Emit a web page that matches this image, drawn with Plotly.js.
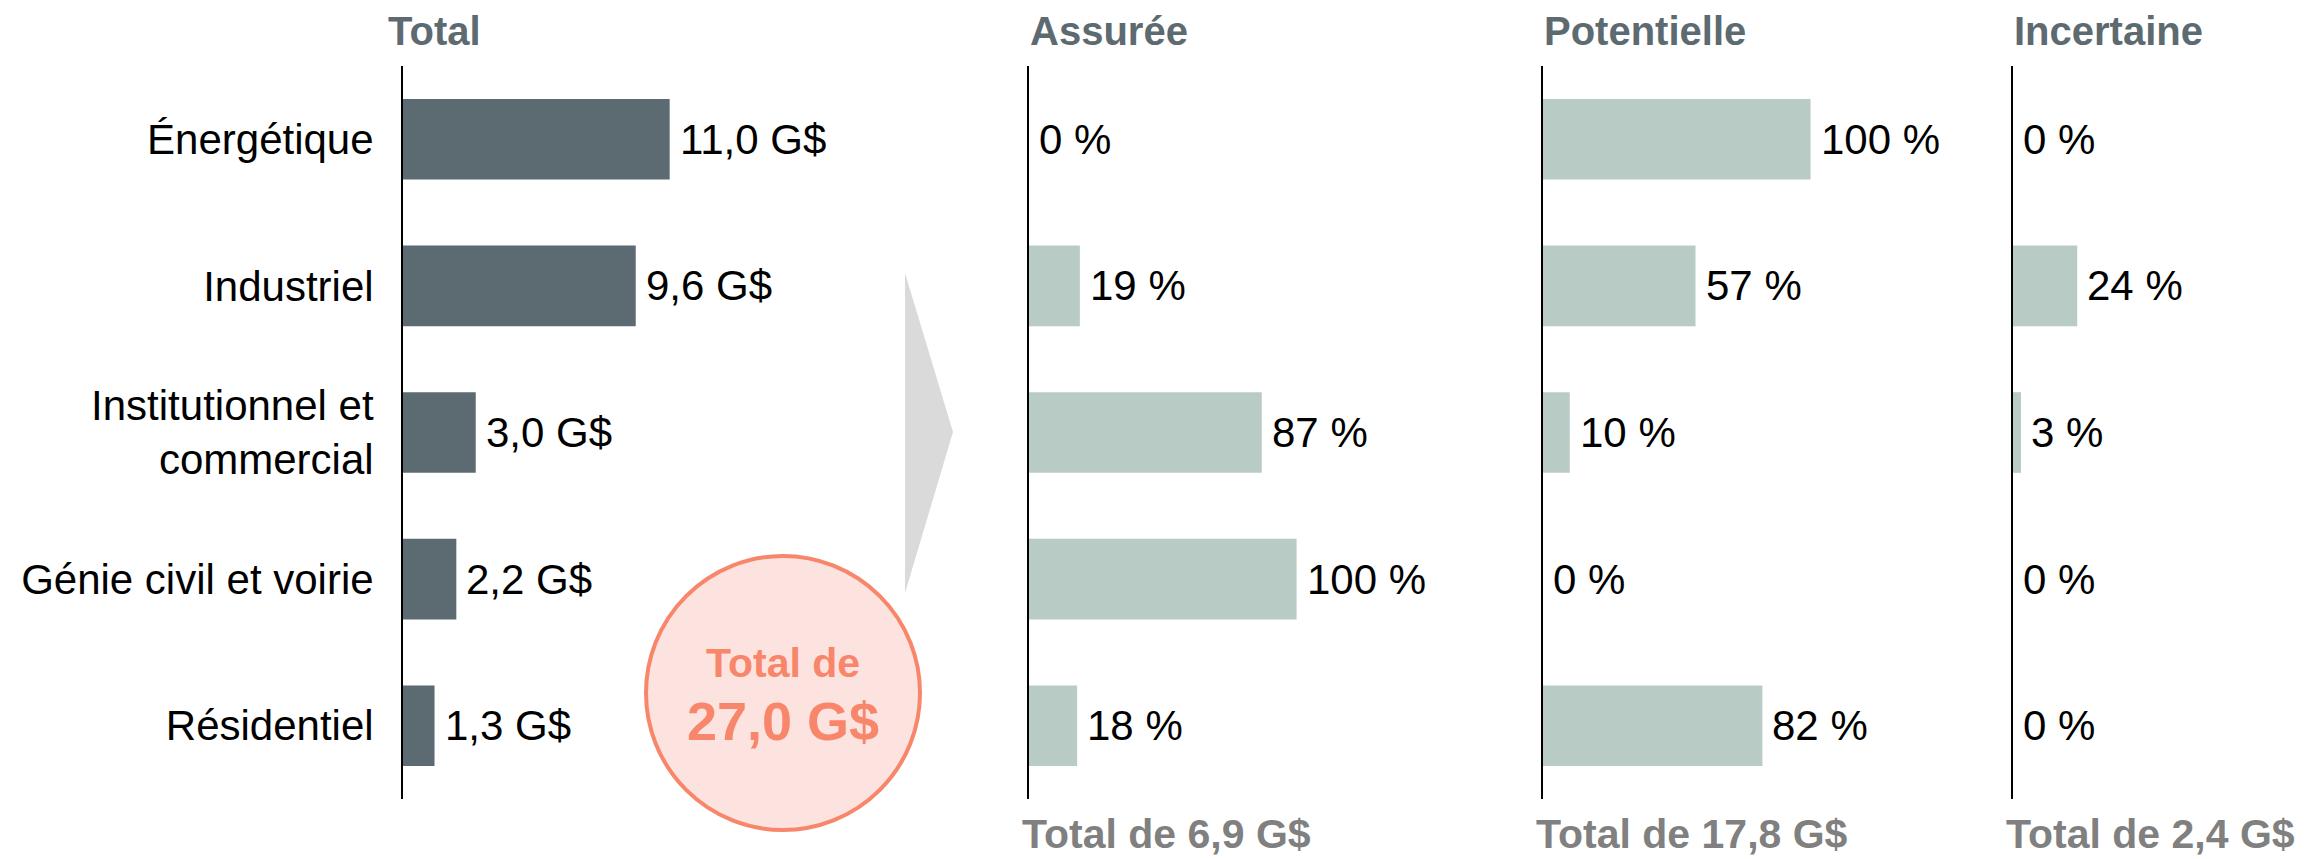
<!DOCTYPE html>
<html>
<head>
<meta charset="utf-8">
<script src="https://cdn.plot.ly/plotly-3.0.1.min.js"></script>
<style>html,body{margin:0;padding:0;background:#fff;}#chart{width:2310px;height:859px;}</style>
</head>
<body>
<div id="chart"></div>
<script>
// ---- data ----
const categories = ['Énergétique', 'Industriel', 'Institutionnel et<br>commercial', 'Génie civil et voirie', 'Résidentiel'];
const totalValues = [11.0, 9.6, 3.0, 2.2, 1.3];          // G$
const assureeValues = [0, 19, 87, 100, 18];              // %
const potentielleValues = [100, 57, 10, 0, 82];          // %
const incertaineValues = [0, 24, 3, 0, 0];               // %
const panelTitles = ['Total', 'Assurée', 'Potentielle', 'Incertaine'];
const columnTotals = [6.9, 17.8, 2.4];                   // G$
const grandTotal = 27.0;                                  // G$

// ---- styling ----
const W = 2310, H = 859;
const FONT = 'Liberation Sans, Arial, Helvetica, sans-serif';
const DARK = '#5b6b71';
const LIGHT = '#b8ccc5';
const TITLE_COLOR = '#5d6b71';
const SALMON = '#f8866a';
const px = v => v / W;
const plotTop = 66, plotBottom = 799;
const py = v => (plotBottom - v) / (plotBottom - plotTop);
const fmt = v => v.toFixed(1).replace('.', ',');

const domains = [[px(403), px(723)], [px(1029), px(1326)], [px(1543), px(1840)], [px(2013), px(2310)]];
const series = [totalValues, assureeValues, potentielleValues, incertaineValues];
const ranges = [[0, 13.2], [0, 111], [0, 111], [0, 111]];

const traces = series.map((vals, i) => ({
  type: 'bar',
  orientation: 'h',
  x: vals,
  y: categories,
  xaxis: i === 0 ? 'x' : 'x' + (i + 1),
  yaxis: i === 0 ? 'y' : 'y' + (i + 1),
  marker: {color: i === 0 ? DARK : LIGHT, line: {width: 0}},
  hoverinfo: 'skip',
  showlegend: false
}));

const layout = {
  width: W, height: H,
  margin: {l: 0, r: 0, t: plotTop, b: H - plotBottom, pad: 0},
  paper_bgcolor: '#fff', plot_bgcolor: 'rgba(0,0,0,0)',
  bargap: 0.45,
  font: {family: FONT, size: 42, color: '#000'},
  showlegend: false,
  annotations: [],
  shapes: []
};

series.forEach((vals, i) => {
  const sx = i === 0 ? '' : String(i + 1);
  layout['xaxis' + sx] = {
    domain: domains[i], range: ranges[i], anchor: 'y' + sx,
    showgrid: false, zeroline: false, showticklabels: false, showline: false, fixedrange: true
  };
  layout['yaxis' + sx] = {
    anchor: 'x' + sx, type: 'category', categoryarray: categories, categoryorder: 'array',
    range: [4.5, -0.5], showgrid: false, zeroline: false,
    showline: true, linecolor: '#000', linewidth: 2,
    ticks: '', showticklabels: i === 0, ticklabelstandoff: 19,
    tickfont: {family: FONT, size: 42, color: '#000'}, fixedrange: true
  };
  // value labels
  vals.forEach((v, j) => {
    layout.annotations.push({
      xref: 'x' + sx, yref: 'y' + sx, x: v, y: categories[j],
      text: i === 0 ? fmt(v) + ' G$' : v + ' %',
      xanchor: 'left', yanchor: 'middle', xshift: 8, showarrow: false,
      font: {family: FONT, size: 42, color: '#000'}
    });
  });
  // panel titles
  layout.annotations.push({
    xref: 'paper', yref: 'paper', x: i === 0 ? px(386) : domains[i][0] - px(1), y: py(31),
    text: '<b>' + panelTitles[i] + '</b>', xanchor: 'left', yanchor: 'middle', showarrow: false,
    font: {family: FONT, size: 40, color: TITLE_COLOR}
  });
  // column totals
  if (i > 0) {
    layout.annotations.push({
      xref: 'paper', yref: 'paper', x: domains[i][0] - px(9), y: py(834),
      text: '<b>Total de ' + fmt(columnTotals[i - 1]) + ' G$</b>', xanchor: 'left', yanchor: 'middle', showarrow: false,
      font: {family: FONT, size: 41, color: '#808080'}
    });
  }
});

// grand total circle
layout.shapes.push({
  type: 'circle', xref: 'paper', yref: 'paper',
  x0: px(646), x1: px(920), y0: py(830), y1: py(556),
  fillcolor: '#fde3df', line: {color: SALMON, width: 4}, layer: 'below'
});
layout.annotations.push({
  xref: 'paper', yref: 'paper', x: px(783), y: py(663), text: '<b>Total de</b>',
  xanchor: 'center', yanchor: 'middle', showarrow: false, font: {family: FONT, size: 41, color: SALMON}
});
layout.annotations.push({
  xref: 'paper', yref: 'paper', x: px(783), y: py(721), text: '<b>' + fmt(grandTotal) + ' G$</b>',
  xanchor: 'center', yanchor: 'middle', showarrow: false, font: {family: FONT, size: 54, color: SALMON}
});

// arrow chevron
layout.shapes.push({
  type: 'path', xref: 'paper', yref: 'paper',
  path: 'M ' + px(905) + ' ' + py(273) + ' L ' + px(953) + ' ' + py(432) + ' L ' + px(905) + ' ' + py(593) + ' Z',
  fillcolor: '#dadada', line: {width: 0}, layer: 'below'
});

Plotly.newPlot('chart', traces, layout, {displayModeBar: false, staticPlot: true});
</script>
</body>
</html>
